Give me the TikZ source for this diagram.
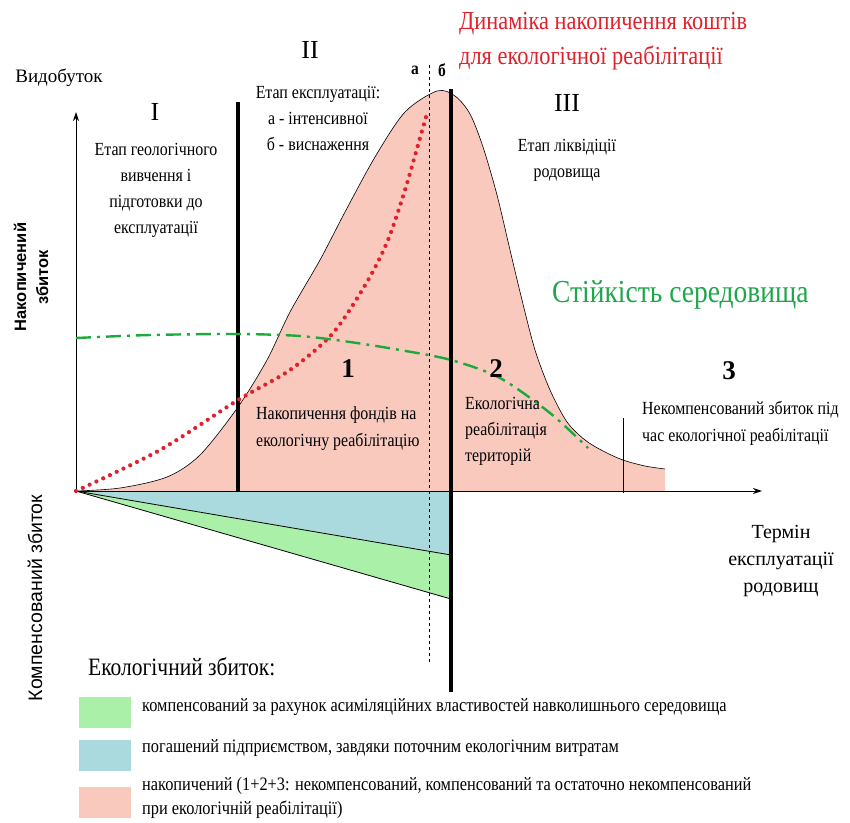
\documentclass[tikz,border=0pt]{standalone}
\usepackage{fontspec}
\setmainfont{Liberation Serif}
\newfontfamily\cond{Liberation Serif}[FakeStretch=0.86]
\newfontfamily\sansf{Liberation Sans}
\usetikzlibrary{arrows.meta}
\definecolor{pinkf}{HTML}{F9C9BD}
\definecolor{bluef}{HTML}{AAD9DE}
\definecolor{greenf}{HTML}{AAF0A8}
\definecolor{redt}{HTML}{E0202A}
\definecolor{greent}{HTML}{1EA64A}
\definecolor{greenl}{HTML}{1BAA3C}
\begin{document}
\begin{tikzpicture}[x=1pt,y=-1pt,
  lbl/.style={inner sep=0pt, align=center, font=\cond\fontsize{18.5}{26}\selectfont},
  lbll/.style={inner sep=0pt, align=left, font=\cond\fontsize{18.5}{27}\selectfont},
  roman/.style={inner sep=0pt, font=\fontsize{26}{26}\selectfont},
  num/.style={inner sep=0pt, font=\bfseries\fontsize{27}{27}\selectfont},
  leg/.style={inner sep=0pt, anchor=west, align=left, font=\cond\fontsize{19}{24}\selectfont},
  swatch/.style={minimum width=52pt, minimum height=31pt, inner sep=0pt},
  thick line/.style={line width=3.2pt},
  axis/.style={line width=1pt,-{Stealth[length=9pt,width=6pt]}}
]
\useasboundingbox (0,0) rectangle (850,822);

% key points
\coordinate (O) at (76,491);
\coordinate (Ytip) at (76,112);
\coordinate (Xtip) at (762,491);
\coordinate (Lt) at (238,102);
\coordinate (Lb) at (238,491);
\coordinate (Rt) at (451,89);
\coordinate (Rb) at (451,692);
\coordinate (Dt) at (429,63);
\coordinate (Db) at (429,662);
\coordinate (Tt) at (623,418);
\coordinate (Tb) at (623,493);
\coordinate (B1) at (451,555);
\coordinate (B0) at (451,492);
\coordinate (G1) at (451,599);

\def\bell{(76,491) (120,488) (167,477) (200,455) (238,407) (267,360) (290,312) (320,260) (345,212) (375,157) (405,112) (437,91) (455,96) (470,114) (483,147) (497,195) (510,250) (522,300) (535,350) (550,390) (567,422) (585,440) (603,451) (623,460) (645,466) (665,469)}
% accumulated damage (pink)
\fill[pinkf] plot[smooth,tension=0.5] coordinates {\bell} -- (665,491) -- cycle;
\draw[line width=0.6pt] plot[smooth,tension=0.5] coordinates {\bell};

% compensated damage
\fill[bluef] (O) -- (B0) -- (B1) -- cycle;
\fill[greenf] (O) -- (B1) -- (G1) -- cycle;
\draw[line width=0.8pt] (O) -- (B1);
\draw[line width=0.8pt] (O) -- (G1);

% axes
\draw[axis] (O) -- (Ytip);
\draw[axis] (O) -- (Xtip);

% stage separators
\draw[thick line] (Lb) -- (Lt);
\draw[line width=0.6pt, dash pattern=on 3pt off 3pt] (Db) -- (Dt);
\draw[thick line] (Rb) -- (Rt);
\draw[line width=0.7pt] (Tb) -- (Tt);

% red dotted: fund accumulation
\draw[redt, line width=4.2pt, line cap=round, dash pattern=on 0pt off 7.5pt] plot[smooth] coordinates {(76,491) (160,450) (238,400) (290,370) (333,333) (367,282) (388,240) (405,190) (418,145) (428,110)};

% green dash-dot: environmental stability
\draw[greenl, line width=2.4pt, dash pattern=on 15pt off 6pt on 3pt off 6pt] plot[smooth] coordinates {(76,338) (150,335) (238,334) (300,336) (350,342) (400,350) (451,360) (500,378) (550,413) (588,448)};

% axis titles
\node[inner sep=0pt, font=\fontsize{19}{19}\selectfont] (vyd) at (59,78) {Видобуток};
\node[inner sep=0pt, align=center, rotate=90, font=\sansf\bfseries\fontsize{16.5}{22}\selectfont] (nak) at (31,277) {Накопичений\\збиток};
\node[inner sep=0pt, rotate=90, font=\sansf\fontsize{19.5}{19.5}\selectfont] (komp) at (35,598) {Компенсований збиток};
\node[inner sep=0pt, align=center, font=\fontsize{20}{27}\selectfont] (term) at (781,561) {Термін\\експлуатації\\родовищ};

% stages
\node[roman] (s1) at (155,112) {I};
\node[lbl] (s1t) at (156,190) {Етап геологічного\\вивчення і\\підготовки до\\експлуатації};
\node[roman] (s2) at (310,50) {II};
\node[lbl] (s2t) at (318,118) {Етап експлуатації:\\а - інтенсивної\\б - виснаження};
\node[roman] (s3) at (567,103) {III};
\node[lbl] (s3t) at (567,160) {Етап ліквідіції\\родовища};
\node[inner sep=0pt, font=\cond\bfseries\fontsize{18}{18}\selectfont] (sa) at (415,70) {а};
\node[inner sep=0pt, font=\cond\bfseries\fontsize{18}{18}\selectfont] (sb) at (442,70) {б};

% titles
\node[inner sep=0pt, anchor=west, align=left, text=redt, font=\cond\fontsize{26}{35}\selectfont] (title) at (459,41) {Динаміка накопичення коштів\\для екологічної реабілітації};
\node[inner sep=0pt, anchor=west, text=greent, font=\cond\fontsize{32}{32}\selectfont] (stab) at (552,295) {Стійкість середовища};

% zones
\node[num] (n1) at (348,369) {1};
\node[num] (n2) at (496,369) {2};
\node[num] (n3) at (729,371) {3};
\node[lbll, anchor=west] (z1) at (256,429) {Накопичення фондів на\\екологічну реабілітацію};
\node[lbll, anchor=west, font=\cond\fontsize{18.5}{26}\selectfont] (z2) at (465,431) {Екологічна\\реабілітація\\територій};
\node[lbll, anchor=west] (z3) at (642,423) {Некомпенсований збиток під\\час екологічної реабілітації};

% legend
\node[inner sep=0pt, anchor=west, font=\cond\fontsize{25}{25}\selectfont] (legt) at (88,667) {Екологічний збиток:};
\node[swatch, fill=greenf] (lg) at (105,712) {};
\node[swatch, fill=bluef] (lb) at (105,755) {};
\node[swatch, fill=pinkf] (lp) at (105,802) {};
\node[leg] (lgt) at (142,707) {компенсований за рахунок асиміляційних властивостей навколишнього середовища};
\node[leg] (lbt) at (142,748) {погашений підприємством, завдяки поточним екологічним витратам};
\node[leg] (lpt) at (142,798) {накопичений (1+2+3: некомпенсований, компенсований та остаточно некомпенсований\\при екологічній реабілітації)};
\end{tikzpicture}
\end{document}
